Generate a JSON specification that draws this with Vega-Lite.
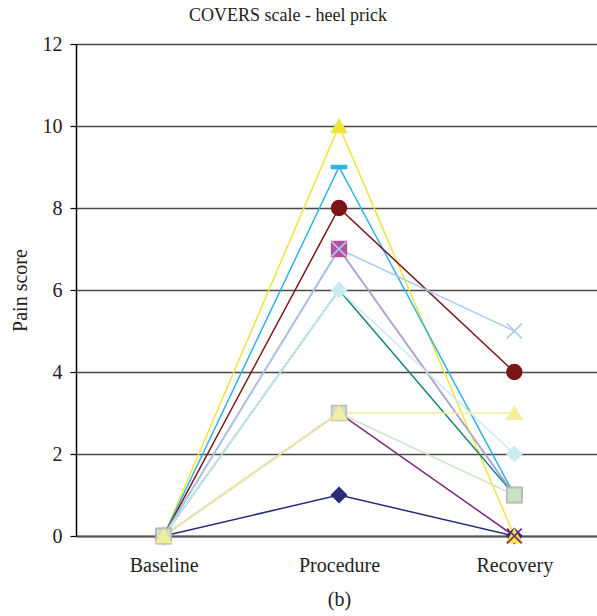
{
  "$schema": "https://vega.github.io/schema/vega-lite/v6.json",
  "width": 526,
  "height": 492,
  "autosize": "none",
  "padding": {"left": 76, "top": 44, "right": 0, "bottom": 80},
  "background": "white",
  "title": {"text": "COVERS scale - heel prick", "font": "Liberation Serif", "fontSize": 18, "fontWeight": "normal", "color": "#222222", "anchor": "middle", "offset": 9, "dx": -51},
  "config": {
    "view": {"stroke": null},
    "axis": {"labelFont": "Liberation Serif", "titleFont": "Liberation Serif", "labelColor": "#222222", "titleColor": "#222222", "titleFontWeight": "normal"}
  },
  "data": {
    "values": [
      {"series": "S1", "time": "Baseline", "score": 0}, {"series": "S1", "time": "Procedure", "score": 1}, {"series": "S1", "time": "Recovery", "score": 0},
      {"series": "S2", "time": "Baseline", "score": 0}, {"series": "S2", "time": "Procedure", "score": 7}, {"series": "S2", "time": "Recovery", "score": 1},
      {"series": "S3", "time": "Baseline", "score": 0}, {"series": "S3", "time": "Procedure", "score": 10}, {"series": "S3", "time": "Recovery", "score": 0},
      {"series": "S4", "time": "Baseline", "score": 0}, {"series": "S4", "time": "Procedure", "score": 9}, {"series": "S4", "time": "Recovery", "score": 1},
      {"series": "S5", "time": "Baseline", "score": 0}, {"series": "S5", "time": "Procedure", "score": 3}, {"series": "S5", "time": "Recovery", "score": 0},
      {"series": "S6", "time": "Baseline", "score": 0}, {"series": "S6", "time": "Procedure", "score": 8}, {"series": "S6", "time": "Recovery", "score": 4},
      {"series": "S7", "time": "Baseline", "score": 0}, {"series": "S7", "time": "Procedure", "score": 6}, {"series": "S7", "time": "Recovery", "score": 1},
      {"series": "S8", "time": "Baseline", "score": 0}, {"series": "S8", "time": "Procedure", "score": 7}, {"series": "S8", "time": "Recovery", "score": 1},
      {"series": "S9", "time": "Baseline", "score": 0}, {"series": "S9", "time": "Procedure", "score": 7}, {"series": "S9", "time": "Recovery", "score": 5},
      {"series": "S10", "time": "Baseline", "score": 0}, {"series": "S10", "time": "Procedure", "score": 6}, {"series": "S10", "time": "Recovery", "score": 2},
      {"series": "S11", "time": "Baseline", "score": 0}, {"series": "S11", "time": "Procedure", "score": 3}, {"series": "S11", "time": "Recovery", "score": 1},
      {"series": "S12", "time": "Baseline", "score": 0}, {"series": "S12", "time": "Procedure", "score": 3}, {"series": "S12", "time": "Recovery", "score": 3}
    ]
  },
  "encoding": {
    "x": {
      "field": "time", "type": "ordinal", "sort": ["Baseline", "Procedure", "Recovery"],
      "scale": {"type": "point", "padding": 0.5},
      "axis": {"title": "(b)", "labelAngle": 0, "ticks": false, "labelPadding": 19, "labelFontSize": 20, "titleFontSize": 20, "titlePadding": 14, "domainColor": "#555555", "domainWidth": 2, "grid": false}
    },
    "y": {
      "field": "score", "type": "quantitative",
      "scale": {"domain": [0, 12], "nice": false},
      "axis": {"title": "Pain score", "values": [0, 2, 4, 6, 8, 10, 12], "labelFontSize": 20, "titleFontSize": 20, "labelPadding": 8, "titlePadding": 12, "tickSize": 6, "tickColor": "#000000", "tickWidth": 1.2, "domainColor": "#000000", "domainWidth": 1.5, "grid": true, "gridColor": "#4a4a4a", "gridWidth": 1.5, "gridOpacity": 1}
    }
  },
  "layer": [
    {
      "mark": {"type": "line"},
      "encoding": {
        "color": {"field": "series", "type": "nominal", "legend": null,
          "scale": {"domain": ["S1","S2","S3","S4","S5","S6","S7","S8","S9","S10","S11","S12"],
                    "range": ["#2A2C7A","#B6509E","#F0E43C","#2FB3E5","#7A287A","#7C1518","#18837A","#A4AEE0","#A6CBEE","#CCEBF0","#C9E3C2","#F3EE9E"]}},
        "strokeWidth": {"field": "series", "type": "nominal", "legend": null,
          "scale": {"domain": ["S1","S2","S3","S4","S5","S6","S7","S8","S9","S10","S11","S12"],
                    "range": [1.5,1.5,2,3,1.5,1.5,1.5,2.2,1.8,1.8,1.5,1.5]}}
      }
    },
    {
      "transform": [{"filter": "datum.series != 'S8'"}],
      "mark": {"type": "point", "filled": true, "opacity": 1, "strokeWidth": 1.6},
      "encoding": {
        "color": {"field": "series", "type": "nominal", "legend": null,
          "scale": {"domain": ["S1","S2","S3","S4","S5","S6","S7","S8","S9","S10","S11","S12"],
                    "range": ["#2A2C7A","#B6509E","#F0E43C","#2FB3E5","#7A287A","#7C1518","#18837A","#A4AEE0","#A6CBEE","#CCEBF0","#C9E3C2","#F3EE9E"]}},
        "stroke": {"field": "series", "type": "nominal", "legend": null,
          "scale": {"domain": ["S1","S2","S3","S4","S5","S6","S7","S8","S9","S10","S11","S12"],
                    "range": ["#2A2C7A","#B6509E","#F0E43C","#2FB3E5","#7A287A","#7C1518","#18837A","#A4AEE0","#A6CBEE","#CCEBF0","#BDBDBD","#F3EE9E"]}},
        "shape": {"field": "series", "type": "nominal", "legend": null,
          "scale": {"domain": ["S1","S2","S3","S4","S5","S6","S7","S8","S9","S10","S11","S12"],
                    "range": ["diamond","square","triangle-up","M-1,-0.2L1,-0.2L1,0.2L-1,0.2Z","M-1,-1L1,1M-1,1L1,-1","circle","M-1,0L1,0M0,-1L0,1","circle","M-1,-1L1,1M-1,1L1,-1","diamond","square","triangle-up"]}},
        "size": {"value": 220}
      }
    }
  ]
}
